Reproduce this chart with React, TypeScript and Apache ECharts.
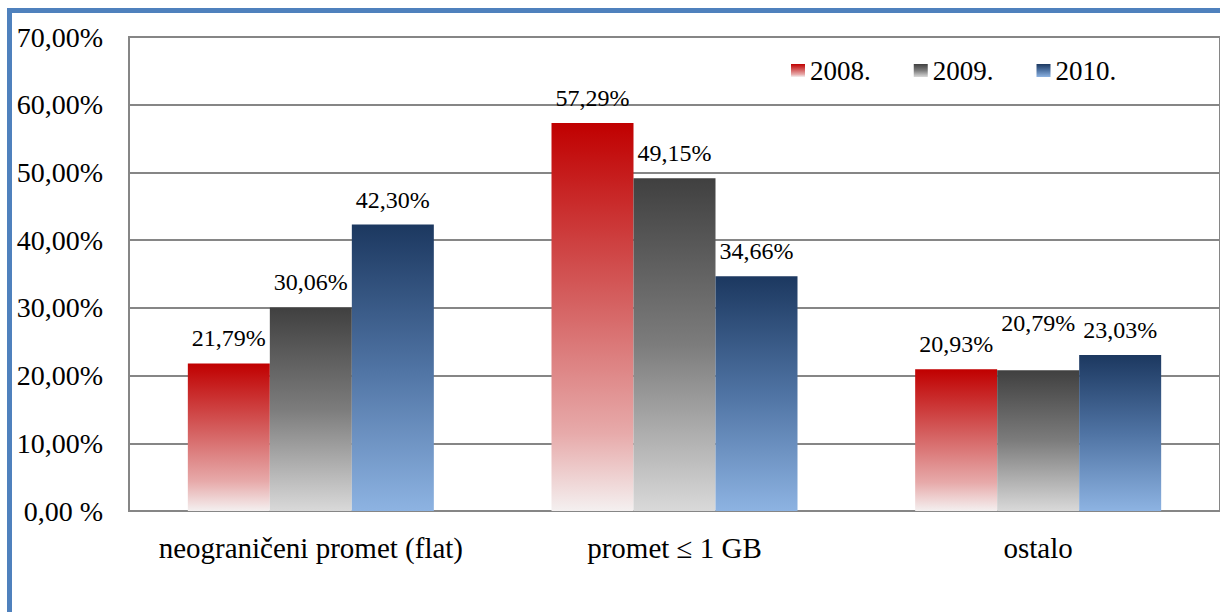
import React, { useEffect, useRef } from "react";
import * as echarts from "echarts";

const categories = ["neograničeni promet (flat)", "promet ≤ 1 GB", "ostalo"];
const seriesNames = ["2008.", "2009.", "2010."];
const values2008 = [21.79, 57.29, 20.93];
const values2009 = [30.06, 49.15, 20.79];
const values2010 = [42.3, 34.66, 23.03];
const yTicks = [0, 10, 20, 30, 40, 50, 60, 70];

const SERIF = "Liberation Serif, Times New Roman, serif";

const grad = (stops: [number, string][]) =>
  new echarts.graphic.LinearGradient(
    0, 0, 0, 1,
    stops.map(([offset, color]) => ({ offset, color }))
  );

const fmt = (v: number) => v.toFixed(2).replace(".", ",") + "%";

export default function App() {
  const ref = useRef<HTMLDivElement>(null);
  useEffect(() => {
    if (!ref.current) return;
    const chart = echarts.init(ref.current, undefined, { renderer: "svg" });
    const colors = [
      grad([[0, "#c00000"], [0.45, "#d45e5e"], [0.8, "#e7aaaa"], [1, "#f4f0f0"]]),
      grad([[0, "#404040"], [0.5, "#7c7c7c"], [1, "#d9d9d9"]]),
      grad([[0, "#1c3860"], [0.5, "#4f73a3"], [1, "#8db3e2"]]),
    ];
    const data = [values2008, values2009, values2010];
    const labelBase = {
      show: true,
      position: "top",
      distance: 13,
      color: "#000",
      fontFamily: SERIF,
      fontSize: 24,
      formatter: (p: any) => fmt(p.value),
    };
    const series = seriesNames.map((name, i) => ({
      name,
      type: "bar",
      barWidth: 82,
      barGap: "0%",
      itemStyle: { color: colors[i] },
      label: labelBase,
      data: data[i].map((v, j) =>
        i === 1 && j === 2 ? { value: v, label: { offset: [0, -22] } } : v
      ),
    }));
    chart.setOption({
      animation: false,
      backgroundColor: "#fff",
      textStyle: { fontFamily: SERIF },
      grid: {
        left: 129,
        right: -3,
        top: 37,
        bottom: 101,
        show: true,
        borderColor: "#868686",
        borderWidth: 2,
        containLabel: false,
      },
      legend: {
        data: seriesNames,
        left: 786,
        top: 52,
        itemWidth: 14,
        itemHeight: 13,
        itemGap: 43,
        icon: "rect",
        textStyle: { fontFamily: SERIF, fontSize: 27, color: "#000" },
      },
      xAxis: {
        type: "category",
        data: categories,
        axisLine: { show: true, lineStyle: { color: "#868686", width: 2 } },
        axisTick: { show: false },
        axisLabel: {
          interval: 0,
          color: "#000",
          fontFamily: SERIF,
          fontSize: 29,
          margin: 22,
        },
      },
      yAxis: {
        type: "value",
        min: yTicks[0],
        max: yTicks[yTicks.length - 1],
        interval: 10,
        axisLine: { show: false },
        axisTick: { show: false },
        splitLine: { lineStyle: { color: "#868686", width: 2 } },
        axisLabel: {
          color: "#000",
          fontFamily: SERIF,
          fontSize: 28,
          margin: 26,
          formatter: (v: number) => (v === 0 ? "0,00 %" : fmt(v)),
        },
      },
      graphic: [
        { type: "rect", left: 7, top: 8, shape: { width: 1213, height: 5 }, style: { fill: "#4f81bd" } },
        { type: "rect", left: 7, top: 8, shape: { width: 5, height: 604 }, style: { fill: "#4f81bd" } },
      ],
      series,
    });
    return () => chart.dispose();
  }, []);
  return (
    <div
      ref={ref}
      style={{ position: "absolute", left: 0, top: 0, width: 1220, height: 612 }}
    />
  );
}
